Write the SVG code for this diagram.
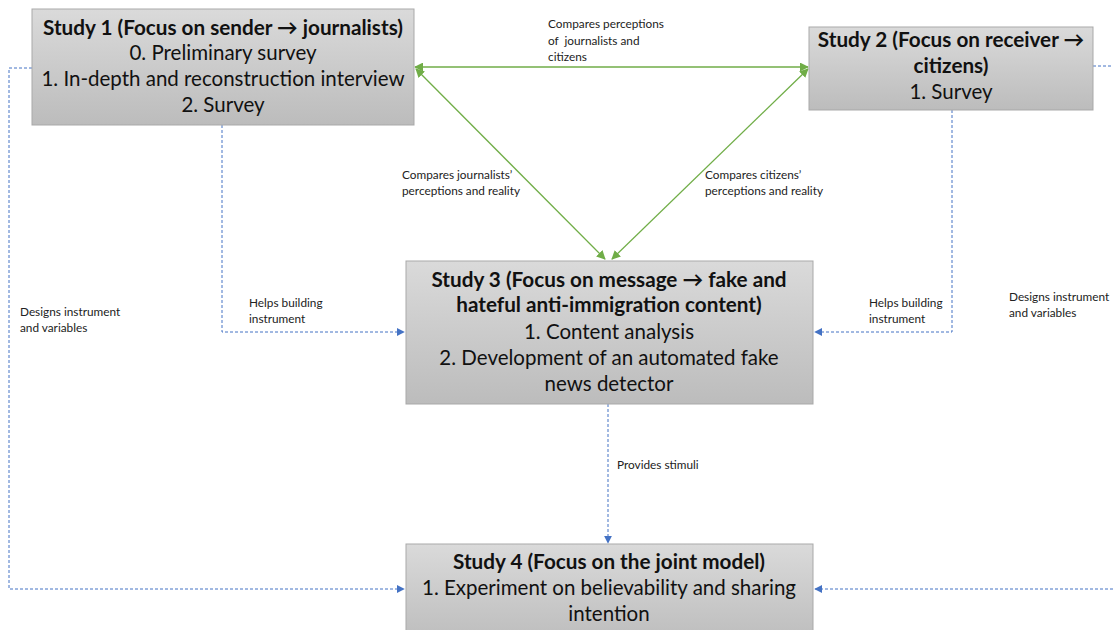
<svg xmlns="http://www.w3.org/2000/svg" width="1113" height="630" viewBox="0 0 1113 630">
  <defs>
    <linearGradient id="boxFill" x1="0" y1="0" x2="0" y2="1">
      <stop offset="0" stop-color="#dadada"/>
      <stop offset="1" stop-color="#bcbcbc"/>
    </linearGradient>
    <marker id="greenHead" viewBox="0 0 10 10" refX="9" refY="5" markerWidth="9" markerHeight="9" markerUnits="userSpaceOnUse" orient="auto-start-reverse">
      <path d="M0,0 L10,5 L0,10 z" fill="#70ad47"/>
    </marker>
    <marker id="blueHead" viewBox="0 0 10 10" refX="9" refY="5" markerWidth="8" markerHeight="8" markerUnits="userSpaceOnUse" orient="auto">
      <path d="M0,0 L10,5 L0,10 z" fill="#4472c4"/>
    </marker>
    <style>
      .box { fill: url(#boxFill); stroke: #a9a9a9; stroke-width: 1; }
      .title { font-family: Lato, "Liberation Sans", sans-serif; font-size: 20.7px; font-weight: bold; fill: #111; text-anchor: middle; }
      .body { font-family: Lato, "Liberation Sans", sans-serif; font-size: 20.5px; fill: #111; text-anchor: middle; }
      .lbl { font-family: Lato, "Liberation Sans", sans-serif; font-size: 11.8px; fill: #222; white-space: pre; }
      .green { stroke: #70ad47; stroke-width: 1.3; fill: none; }
      .blue { stroke: #4472c4; stroke-width: 1; stroke-dasharray: 3 2; fill: none; }
    </style>
  </defs>

  <g id="connectors">
    <!-- perception comparisons -->
    <line class="green" x1="415" y1="67" x2="808" y2="67" marker-start="url(#greenHead)" marker-end="url(#greenHead)"/>
    <line class="green" x1="416" y1="69" x2="605" y2="259" marker-start="url(#greenHead)" marker-end="url(#greenHead)"/>
    <line class="green" x1="808" y1="69" x2="612" y2="259" marker-start="url(#greenHead)" marker-end="url(#greenHead)"/>
    <!-- instrument links -->
    <polyline class="blue" points="222,125 222,332 404,332" marker-end="url(#blueHead)"/>
    <polyline class="blue" points="952,110 952,332 815,332" marker-end="url(#blueHead)"/>
    <polyline class="blue" points="608,404 608,543" marker-end="url(#blueHead)"/>
    <polyline class="blue" points="32,68 9,68 9,589 404,589" marker-end="url(#blueHead)"/>
    <polyline class="blue" points="1093,66 1113,66"/>
    <polyline class="blue" points="1113,589 815,589" marker-end="url(#blueHead)"/>

    <text class="lbl" x="548" y="28">Compares perceptions</text>
    <text class="lbl" x="548" y="45">of  journalists and</text>
    <text class="lbl" x="548" y="61">citizens</text>
    <text class="lbl" x="402" y="179">Compares journalists’</text>
    <text class="lbl" x="402" y="195">perceptions and reality</text>
    <text class="lbl" x="705" y="179">Compares citizens’</text>
    <text class="lbl" x="705" y="195">perceptions and reality</text>
    <text class="lbl" x="20" y="316">Designs instrument</text>
    <text class="lbl" x="20" y="332">and variables</text>
    <text class="lbl" x="249" y="307">Helps building</text>
    <text class="lbl" x="249" y="323">instrument</text>
    <text class="lbl" x="869" y="307">Helps building</text>
    <text class="lbl" x="869" y="323">instrument</text>
    <text class="lbl" x="1009" y="301">Designs instrument</text>
    <text class="lbl" x="1009" y="317">and variables</text>
    <text class="lbl" x="617" y="469">Provides stimuli</text>
  </g>

  <g id="study1">
    <rect class="box" x="32" y="9" width="382" height="116"/>
    <text class="title" x="223" y="35">Study 1 (Focus on sender → journalists)</text>
    <text class="body" x="223" y="60">0. Preliminary survey</text>
    <text class="body" x="223" y="86">1. In-depth and reconstruction interview</text>
    <text class="body" x="223" y="112">2. Survey</text>
  </g>

  <g id="study2">
    <rect class="box" x="809" y="27" width="284" height="83"/>
    <text class="title" x="951" y="47">Study 2 (Focus on receiver →</text>
    <text class="title" x="951" y="73">citizens)</text>
    <text class="body" x="951" y="99">1. Survey</text>
  </g>

  <g id="study3">
    <rect class="box" x="406" y="261" width="407" height="143"/>
    <text class="title" x="609" y="287">Study 3 (Focus on message → fake and</text>
    <text class="title" x="609" y="312">hateful anti-immigration content)</text>
    <text class="body" x="609" y="339">1. Content analysis</text>
    <text class="body" x="609" y="365">2. Development of an automated fake</text>
    <text class="body" x="609" y="391">news detector</text>
  </g>

  <g id="study4">
    <rect class="box" x="406" y="544" width="407" height="100"/>
    <text class="title" x="609" y="569">Study 4 (Focus on the joint model)</text>
    <text class="body" x="609" y="595">1. Experiment on believability and sharing</text>
    <text class="body" x="609" y="621">intention</text>
  </g>
</svg>
